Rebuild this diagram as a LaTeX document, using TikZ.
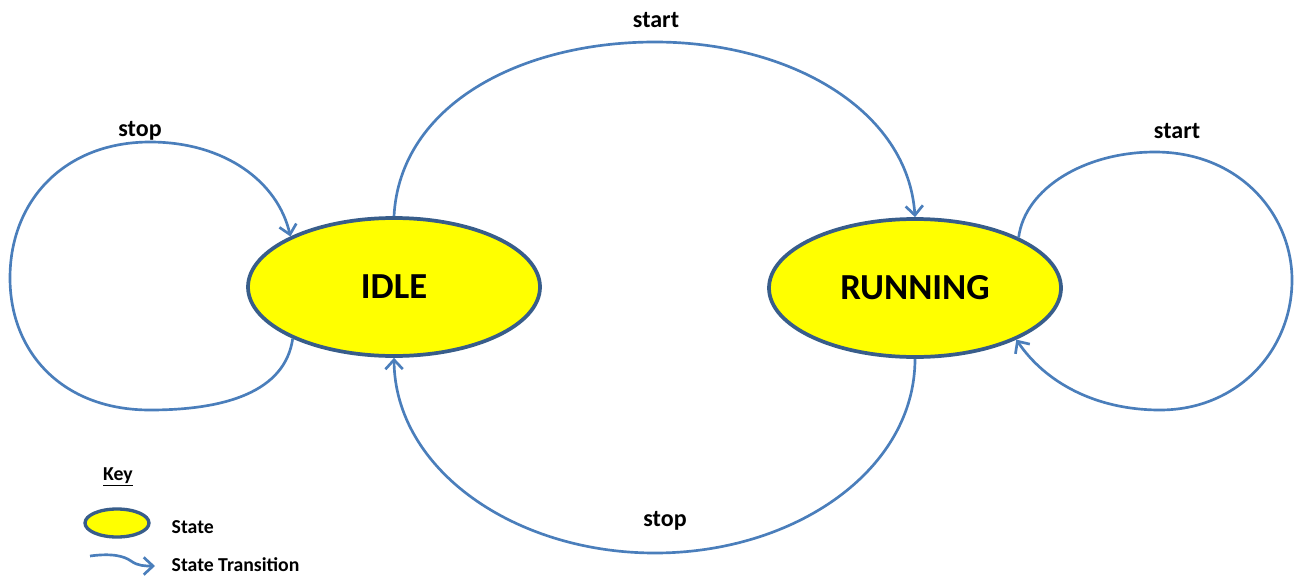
\documentclass[tikz,border=0pt]{standalone}
\usepackage{fontspec}
\setmainfont{Carlito}
\usetikzlibrary{shapes.geometric,arrows.meta}
\definecolor{edgeblue}{HTML}{4A7EBB}
\definecolor{stateborder}{HTML}{385D8A}
\definecolor{statefill}{HTML}{FFFF00}
\tikzset{
  statebox/.style={ellipse, draw=stateborder, fill=statefill, line width=2.8pt,
    inner sep=0pt, minimum width=219pt, minimum height=103.5pt,
    font=\fontsize{27.5}{30}\selectfont\bfseries},
  keystate/.style={ellipse, draw=stateborder, fill=statefill, line width=2.5pt,
    inner sep=0pt, minimum width=48pt, minimum height=21pt},
  transition/.style={draw=edgeblue, line width=2pt,
    -{Straight Barb[length=7pt,width=13pt,line width=2pt]}},
  edgelabel/.style={font=\fontsize{18}{20}\selectfont\bfseries},
  keytext/.style={font=\fontsize{14.8}{16}\selectfont\bfseries, anchor=west}
}
\begin{document}
\begin{tikzpicture}[x=0.75pt,y=-0.75pt]
  \useasboundingbox (0,0) rectangle (1295,575);

  % states
  \node[statebox] (idle) at (394,287) {IDLE};
  \node[statebox] (running) at (915,288) {RUNNING};

  % transition labels
  \node[edgelabel] (lstopidle) at (140,131) {stop};
  \node[edgelabel] (lstart) at (656,20) {start};
  \node[edgelabel] (lstartrun) at (1177,131) {start};
  \node[edgelabel] (lstop) at (665,521) {stop};

  % IDLE --stop--> IDLE
  \draw[transition] (idle.207) .. controls (285,392) and (225,410) .. (150,410)
    .. controls (62,410) and (10,352) .. (10,278)
    .. controls (10,200) and (65,142) .. (150,142)
    .. controls (225,142) and (278,182) .. (idle.154);

  % IDLE --start--> RUNNING
  \draw[transition] (idle.north) .. controls (400,105) and (520,42) .. (655,42)
    .. controls (790,42) and (908,110) .. (running.north);

  % RUNNING --stop--> IDLE
  \draw[transition] (running.south) .. controls (915,470) and (795,553) .. (655,553)
    .. controls (515,553) and (395,470) .. (idle.south);

  % RUNNING --start--> RUNNING
  \draw[transition] (running.26) .. controls (1025,188) and (1085,152) .. (1155,152)
    .. controls (1240,152) and (1292,215) .. (1292,280)
    .. controls (1292,350) and (1238,410) .. (1160,410)
    .. controls (1095,410) and (1045,382) .. (running.-27);

  % key
  \node[font=\fontsize{14.8}{16}\selectfont\bfseries] (keytitle) at (118,477) {\underline{Key}};
  \node[keystate] (keyellipse) at (117,523) {};
  \node[keytext] (keystatetext) at (167,527) {State};
  \coordinate (keyfrom) at (90,556);
  \coordinate (keyto) at (155,566);
  \draw[transition] (keyfrom) .. controls (112,553) and (124,556) .. (131,561)
    .. controls (138,566) and (145,566) .. (keyto);
  \node[keytext] (keytranstext) at (167,565) {State Transition};
\end{tikzpicture}
\end{document}
